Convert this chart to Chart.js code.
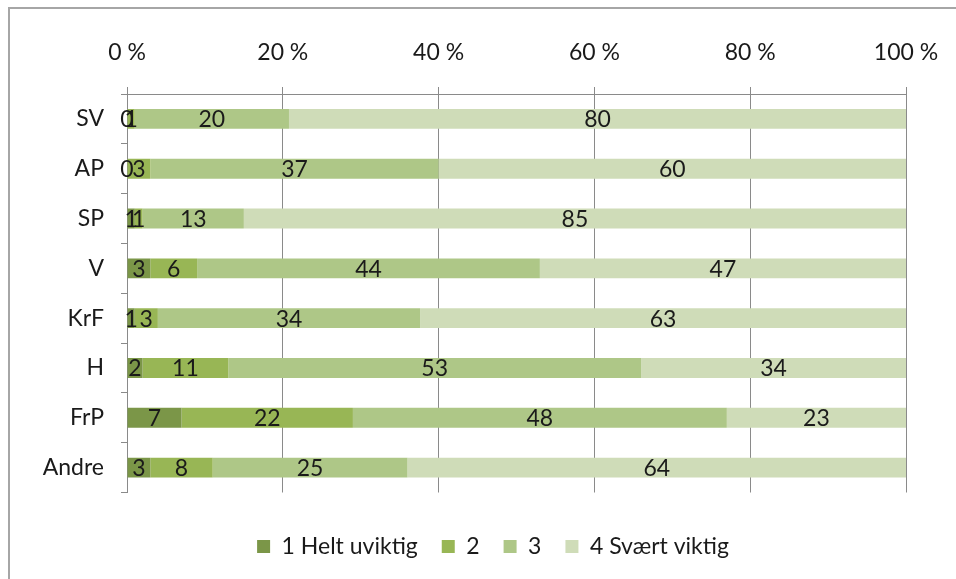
<!DOCTYPE html>
<html>
<head>
<meta charset="utf-8">
<script src="https://cdn.jsdelivr.net/npm/chart.js@4/dist/chart.umd.min.js"></script>
<style>
    html, body { margin: 0; padding: 0; background: #ffffff; }
    #wrap { position: relative; width: 956px; height: 579px; overflow: hidden; }
    #frame { position: absolute; left: 8px; top: 7px; width: 960px; height: 600px;
             border-left: 2px solid #a6a6a6; border-top: 2px solid #a6a6a6; }
    canvas { position: absolute; left: 0; top: 0; }
</style>
</head>
<body>
<div id="wrap">
    <div id="frame"></div>
    <canvas id="chartParties" width="956" height="579"></canvas>
</div>
<script>

var parties = ['SV', 'AP', 'SP', 'V', 'KrF', 'H', 'FrP', 'Andre'];
var levelNames = ['1 Helt uviktig', '2', '3', '4 Svært viktig'];
var levelColors = ['#7b9648', '#98b655', '#aec787', '#cfdcb8'];
var tickLabels = ['0 %', '20 %', '40 %', '60 %', '80 %', '100 %'];

var level1 = [0, 0, 1, 3, 1, 2, 7, 3];
var level2 = [1, 3, 1, 6, 3, 11, 22, 8];
var level3 = [20, 37, 13, 44, 34, 53, 48, 25];
var level4 = [80, 60, 85, 47, 63, 34, 23, 64];

var levels = [level1, level2, level3, level4];

// 100 % stacked, like the original spreadsheet chart
var totals = parties.map(function(p, i) {
    return level1[i] + level2[i] + level3[i] + level4[i];
});

var datasets = levels.map(function(values, k) {
    return {
        label: levelNames[k],
        data: values.map(function(v, i) { return v / totals[i] * 100; }),
        rawValues: values,
        backgroundColor: levelColors[k],
        borderWidth: 0,
        barPercentage: 0.4,
        categoryPercentage: 1
    };
});

var textColor = '#1a1a1a';
var gridColor = '#8a8a8a';

var segmentLabels = {
    id: 'segmentLabels',
    afterDatasetsDraw: function(chart) {
        var ctx = chart.ctx;
        ctx.save();
        ctx.font = '23px Lato';
        ctx.fillStyle = textColor;
        ctx.textAlign = 'center';
        ctx.textBaseline = 'middle';
        chart.data.datasets.forEach(function(ds, k) {
            chart.getDatasetMeta(k).data.forEach(function(bar, i) {
                var cx = (bar.x + bar.base) / 2;
                ctx.fillText(String(ds.rawValues[i]), cx, bar.y + 1);
            });
        });
        ctx.restore();
    }
};

// legend sits a bit right of the canvas centre in the original
var legendShift = {
    id: 'legendShift',
    afterLayout: function(chart) {
        chart.legend.left += 40;
        chart.legend.right += 40;
    }
};

var config = {
    type: 'bar',
    plugins: [segmentLabels, legendShift],
    data: {
        labels: parties,
        datasets: datasets
    },
    options: {
        indexAxis: 'y',
        responsive: false,
        animation: false,
        layout: {
            padding: { left: 0, right: 50, top: 0, bottom: 11 }
        },
        plugins: {
            tooltip: { enabled: false },
            legend: {
                position: 'bottom',
                title: {
                    display: true,
                    text: ' ',
                    padding: 3,
                    font: { size: 10, lineHeight: 1.25 }
                },
                labels: {
                    boxWidth: 13,
                    boxHeight: 13,
                    padding: 24,
                    color: textColor,
                    font: { family: 'Lato', size: 23 }
                }
            }
        },
        scales: {
            x: {
                position: 'top',
                stacked: true,
                min: 0,
                max: 100,
                afterFit: function(scale) {
                    scale.height = 94;
                    scale.paddingLeft = 0;
                    scale.paddingRight = 0;
                },
                ticks: {
                    stepSize: 20,
                    padding: 21,
                    color: textColor,
                    font: { family: 'Lato', size: 23 },
                    callback: function(value) {
                        return tickLabels[value / 20];
                    }
                },
                grid: {
                    color: gridColor,
                    tickLength: 7
                },
                border: { color: gridColor }
            },
            y: {
                stacked: true,
                afterFit: function(scale) {
                    scale.width = 127;
                },
                ticks: {
                    padding: 17,
                    color: textColor,
                    font: { family: 'Lato', size: 23 }
                },
                grid: {
                    offset: true,
                    drawOnChartArea: false,
                    tickLength: 6,
                    color: gridColor
                },
                border: { color: gridColor }
            }
        }
    }
};

new Chart(document.getElementById('chartParties'), config);

</script>
</body>
</html>
